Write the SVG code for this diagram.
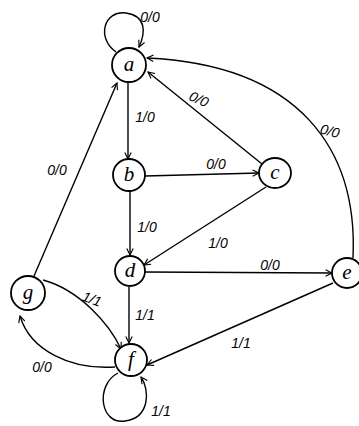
<svg xmlns="http://www.w3.org/2000/svg" width="359" height="426" viewBox="0 0 359 426">
<style>
.node{fill:#fff;stroke:#000;stroke-width:1.8}
.nl{font-family:"Liberation Serif",serif;font-style:italic;font-size:21px;text-anchor:middle;fill:#000}
.e{fill:none;stroke:#000;stroke-width:1.4;marker-end:url(#arr)}
.lb{font-family:"Liberation Sans",sans-serif;font-style:italic;font-size:14px;text-anchor:middle;fill:#000}
</style>
<defs>
<marker id="arr" viewBox="0 0 10 10" refX="9" refY="5" markerWidth="8" markerHeight="8" orient="auto" markerUnits="userSpaceOnUse">
<path d="M1 1 L9 5 L1 9" fill="none" stroke="#000" stroke-width="1.4"/>
</marker>
</defs>
<rect width="359" height="426" fill="#fff"/>
<g id="connectors">
<path class="e" d="M116 52 C96 38,104 10,126 13 C146 16,146 32,139 47"/>
<path class="e" d="M128 82 L128 159"/>
<path class="e" d="M353 258 C358 150,300 65,147 58"/>
<path class="e" d="M262 164 L148 72"/>
<path class="e" d="M145 176 L259 173"/>
<path class="e" d="M130 191 L130 255"/>
<path class="e" d="M266 187 L144 265"/>
<path class="e" d="M145 272 L332 273"/>
<path class="e" d="M129 287 L129 343"/>
<path class="e" d="M333 283 L147 365"/>
<path class="e" d="M34 276 L117 83"/>
<path class="e" d="M43 280 C80 290,110 325,121 349"/>
<path class="e" d="M115 367 C70 370,30 350,20 316"/>
<path class="e" d="M118 373 C95 385,100 425,125 421 C150 418,150 390,141 377"/>
<text class="lb" x="150" y="22">0/0</text>
<text class="lb" x="145" y="122">1/0</text>
<text class="lb" x="199" y="104" transform="rotate(25 199 99)">0/0</text>
<text class="lb" x="330" y="136" transform="rotate(15 330 131)">0/0</text>
<text class="lb" x="216" y="169">0/0</text>
<text class="lb" x="57" y="175">0/0</text>
<text class="lb" x="147" y="232">1/0</text>
<text class="lb" x="218" y="248">1/0</text>
<text class="lb" x="270" y="270">0/0</text>
<text class="lb" x="145" y="320">1/1</text>
<text class="lb" x="241" y="348">1/1</text>
<text class="lb" x="92" y="304" transform="rotate(20 92 299)">1/1</text>
<text class="lb" x="42" y="372">0/0</text>
<text class="lb" x="161" y="416">1/1</text>
</g>
<g id="a"><circle class="node" cx="129" cy="65" r="17"/><text class="nl" x="129" y="71">a</text></g>
<g id="b"><circle class="node" cx="129" cy="175" r="16"/><text class="nl" x="129" y="181">b</text></g>
<g id="c"><ellipse class="node" cx="275" cy="173" rx="16" ry="15"/><text class="nl" x="275" y="179">c</text></g>
<g id="d"><circle class="node" cx="130" cy="271" r="15"/><text class="nl" x="130" y="277">d</text></g>
<g id="e"><circle class="node" cx="347" cy="273" r="15"/><text class="nl" x="347" y="279">e</text></g>
<g id="f"><circle class="node" cx="131" cy="360" r="16"/><text class="nl" x="131" y="366">f</text></g>
<g id="g"><circle class="node" cx="28" cy="293" r="17"/><text class="nl" x="28" y="299">g</text></g>
</svg>
